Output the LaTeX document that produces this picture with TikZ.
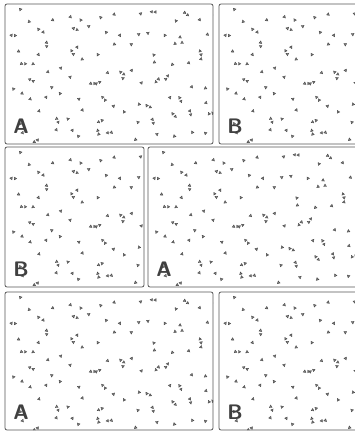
\documentclass[tikz,border=0pt]{standalone}
\usepackage{tikz}
\usepackage{xcolor}
\definecolor{panelgrey}{HTML}{555555}
\definecolor{gritgrey}{HTML}{4A4A4A}

\tikzset{
  panelbox/.style={draw=panelgrey, line width=0.8pt, rounded corners=2pt},
  grit/.style={draw=gritgrey, fill=gritgrey!70, line width=0.4pt},
  panellabel/.style={font=\sffamily\bfseries\fontsize{21}{21}\selectfont, text=black!75, inner sep=0pt}
}

% one concrete panel: x0, y0, x1, y1, label
\newcommand{\gritpanel}[5]{%
  \begin{scope}
    \clip[rounded corners=2pt] (#1,#2) rectangle (#3,#4);
    \pgfmathsetseed{4711}
    \foreach \i in {0,...,12} {
      \foreach \j in {0,...,8} {
        \pgfmathsetmacro{\gx}{#1+4+\i*17+rnd*14}
        \pgfmathsetmacro{\gy}{#2+4+\j*17+rnd*14}
        \pgfmathsetmacro{\ga}{rnd*360}
        \pgfmathsetmacro{\gb}{rnd*360}
        \pgfmathsetmacro{\hx}{\gx+3.8*cos(\gb)}
        \pgfmathsetmacro{\hy}{\gy+3.8*sin(\gb)}
        \pgfmathtruncatemacro{\gp}{rnd>0.72}
        \draw[grit] (\gx,\gy) +(\ga:1.6) -- +(\ga+120:1.6) -- +(\ga+240:1.6) -- cycle;
        \ifnum\gp=1
          \draw[grit] (\hx,\hy) +(\gb:1.5) -- +(\gb+120:1.5) -- +(\gb+240:1.5) -- cycle;
        \fi
      }
    }
  \end{scope}
  \draw[panelbox] (#1,#2) rectangle (#3,#4);
  \node[panellabel] at (#1+16,#4-18) {#5};
}

\begin{document}
\begin{tikzpicture}[x=1pt, y=-1pt]
  \clip (0,0) rectangle (355,432);
  % top row
  \gritpanel{5}{4}{213}{144}{A}
  \gritpanel{219}{4}{375}{144}{B}
  % middle row
  \gritpanel{5}{147}{144}{287}{B}
  \gritpanel{148}{147}{375}{287}{A}
  % bottom row
  \gritpanel{5}{292}{213}{430}{A}
  \gritpanel{219}{292}{375}{430}{B}
\end{tikzpicture}
\end{document}
